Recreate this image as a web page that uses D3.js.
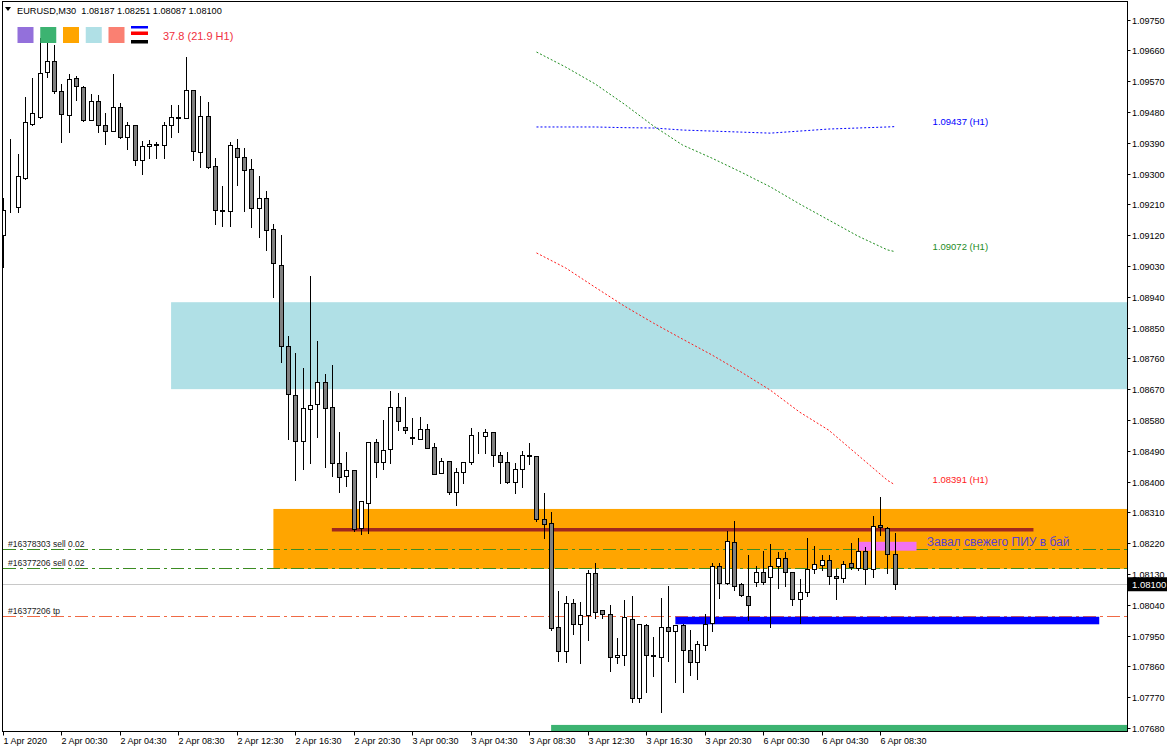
<!DOCTYPE html>
<html><head><meta charset="utf-8">
<script src="https://cdn.jsdelivr.net/npm/d3@7"></script>
<style>
body{margin:0;background:#fff;}
svg{display:block;font-family:"Liberation Sans",Arial,sans-serif;}
</style>
</head><body>
<svg id="c" width="1170" height="750"></svg>
<script>
// ---------- DATA ----------
const symbolTitle = "EURUSD,M30";
const opens = [1.09120,1.09198,1.09203,1.09288,1.09445,1.09464,1.09598,1.09630,1.09542,1.09472,
1.09580,1.09553,1.09455,1.09513,1.09441,1.09424,1.09494,1.09406,1.09441,1.09340,
1.09380,1.09387,1.09382,1.09441,1.09464,1.09461,1.09545,1.09363,1.09467,1.09323,
1.09193,1.09190,1.09374,1.09347,1.09312,1.09200,1.09228,1.09137,1.09033,1.08795,
1.08653,1.08518,1.08613,1.08627,1.08690,1.08619,1.08453,1.08415,1.08435,1.08263,
1.08338,1.08515,1.08458,1.08495,1.08619,1.08560,1.08529,1.08524,1.08553,1.08501,
1.08424,1.08461,1.08370,1.08427,1.08456,1.08536,1.08533,1.08544,1.08477,1.08456,
1.08400,1.08437,1.08477,1.08474,1.08292,1.08279,1.07974,1.07906,1.08044,1.07983,
1.08009,1.08133,1.08024,1.08013,1.07886,1.07892,1.07999,1.07767,1.07980,1.07892,
1.07888,1.07975,1.07964,1.07981,1.07907,1.07874,1.07922,1.07986,1.08153,1.08103,
1.08223,1.08100,1.08066,1.08106,1.08135,1.08122,1.08154,1.08177,1.08135,1.08056,
1.08078,1.08146,1.08155,1.08172,1.08124,1.08119,1.08161,1.08148,1.08196,1.08145,
1.08272,1.08263,1.08187];
const highs = [1.09228,1.09400,1.09356,1.09524,1.09578,1.09696,1.09684,1.09676,1.09562,1.09591,
1.09586,1.09556,1.09532,1.09529,1.09476,1.09591,1.09505,1.09450,1.09441,1.09396,
1.09399,1.09393,1.09450,1.09499,1.09499,1.09641,1.09545,1.09526,1.09508,1.09344,
1.09264,1.09393,1.09400,1.09374,1.09342,1.09293,1.09250,1.09153,1.09120,1.08824,
1.08775,1.08731,1.09001,1.08812,1.08715,1.08740,1.08545,1.08485,1.08435,1.08342,
1.08515,1.08523,1.08579,1.08665,1.08659,1.08648,1.08585,1.08589,1.08567,1.08513,
1.08470,1.08461,1.08439,1.08456,1.08556,1.08544,1.08554,1.08544,1.08485,1.08485,
1.08453,1.08489,1.08513,1.08474,1.08366,1.08312,1.08080,1.08066,1.08058,1.08047,
1.08142,1.08161,1.08024,1.08039,1.07944,1.08053,1.08066,1.07983,1.07983,1.07947,
1.08061,1.08096,1.07981,1.07983,1.07965,1.07934,1.08013,1.08161,1.08163,1.08256,
1.08286,1.08104,1.08184,1.08152,1.08198,1.08217,1.08195,1.08195,1.08135,1.08114,
1.08234,1.08213,1.08185,1.08185,1.08144,1.08169,1.08221,1.08234,1.08210,1.08299,
1.08356,1.08266,1.08251];
const lows = [1.09027,1.09188,1.09188,1.09283,1.09442,1.09462,1.09581,1.09534,1.09391,1.09420,
1.09514,1.09454,1.09455,1.09422,1.09386,1.09424,1.09403,1.09371,1.09325,1.09299,
1.09346,1.09344,1.09344,1.09406,1.09421,1.09461,1.09340,1.09320,1.09317,1.09152,
1.09148,1.09148,1.09266,1.09191,1.09145,1.09115,1.09077,1.08938,1.08748,1.08524,
1.08404,1.08436,1.08455,1.08531,1.08443,1.08416,1.08369,1.08388,1.08255,1.08247,
1.08250,1.08414,1.08436,1.08453,1.08550,1.08541,1.08509,1.08524,1.08499,1.08421,
1.08424,1.08364,1.08331,1.08396,1.08450,1.08482,1.08482,1.08445,1.08396,1.08395,
1.08367,1.08383,1.08450,1.08286,1.08236,1.07966,1.07876,1.07874,1.07955,1.07869,
1.07937,1.08000,1.08000,1.07846,1.07869,1.07864,1.07757,1.07755,1.07786,1.07833,
1.07727,1.07876,1.07815,1.07784,1.07835,1.07822,1.07908,1.07964,1.08059,1.08101,
1.08083,1.08066,1.07995,1.08096,1.08101,1.07976,1.08090,1.08096,1.08039,1.07988,
1.08066,1.08132,1.08142,1.08101,1.08057,1.08107,1.08145,1.08142,1.08101,1.08122,
1.08244,1.08132,1.08087];
const closes = [1.09193,1.09199,1.09294,1.09450,1.09476,1.09593,1.09629,1.09542,1.09473,1.09577,
1.09555,1.09456,1.09513,1.09441,1.09425,1.09494,1.09406,1.09441,1.09340,1.09380,
1.09387,1.09382,1.09441,1.09464,1.09463,1.09545,1.09366,1.09467,1.09319,1.09193,
1.09191,1.09382,1.09347,1.09310,1.09198,1.09228,1.09134,1.09038,1.08797,1.08656,
1.08518,1.08614,1.08624,1.08690,1.08616,1.08453,1.08414,1.08435,1.08260,1.08342,
1.08515,1.08458,1.08493,1.08619,1.08576,1.08550,1.08528,1.08553,1.08499,1.08421,
1.08461,1.08369,1.08427,1.08456,1.08536,1.08535,1.08544,1.08477,1.08456,1.08400,
1.08437,1.08477,1.08475,1.08290,1.08277,1.07973,1.07906,1.08044,1.07983,1.08009,
1.08133,1.08020,1.08012,1.07886,1.07892,1.08004,1.07767,1.07983,1.07892,1.07891,
1.07975,1.07964,1.07981,1.07908,1.07874,1.07924,1.07983,1.08153,1.08104,1.08226,
1.08096,1.08068,1.08038,1.08135,1.08108,1.08153,1.08177,1.08135,1.08056,1.08078,
1.08146,1.08159,1.08172,1.08125,1.08119,1.08159,1.08150,1.08196,1.08145,1.08271,
1.08266,1.08188,1.08100];

const xTickIndex = [0,8,16,24,32,40,48,56,64,72,80,88,96,104,112,120];
const xTickLabels = ["1 Apr 2020","2 Apr 00:30","2 Apr 04:30","2 Apr 08:30","2 Apr 12:30","2 Apr 16:30",
"2 Apr 20:30","3 Apr 00:30","3 Apr 04:30","3 Apr 08:30","3 Apr 12:30","3 Apr 16:30","3 Apr 20:30",
"6 Apr 00:30","6 Apr 04:30","6 Apr 08:30"];
const yTickValues = [1.09750,1.09660,1.09570,1.09480,1.09390,1.09300,1.09210,1.09120,1.09030,1.08940,
1.08850,1.08760,1.08670,1.08580,1.08490,1.08400,1.08310,1.08220,1.08130,1.08040,1.07950,1.07860,1.07770,1.07680];

// H1 averages drawn on the chart (bar index -> price)
const maIndex = [73,77,81,85,89,93,97,101,105,109,113,117,121,122];
const maBlue  = [1.09436,1.09436,1.09436,1.09434,1.09433,1.09427,1.09424,1.09421,1.09418,1.09424,1.09430,1.09433,1.09436,1.09437];
const maGreen = [1.09655,1.09611,1.09562,1.09503,1.09439,1.09383,1.09345,1.09304,1.09261,1.09211,1.09164,1.09117,1.09077,1.09072];
const maRed   = [1.09068,1.09024,1.08968,1.08913,1.08863,1.08816,1.08770,1.08720,1.08667,1.08603,1.08550,1.08477,1.08404,1.08391];
const maLabels = ["1.09437 (H1)","1.09072 (H1)","1.08391 (H1)"];

// zones: [startIndex, endIndex, priceTop, priceBottom]
const zoneBlue   = [23, 170, 1.08924, 1.08670];
const zoneOrange = [37, 170, 1.08320, 1.08145];
const zoneViolet = [117, 125, 1.08224, 1.08198];
const zoneBlueBar= [92, 150, 1.08005, 1.07983];
const zoneGreen  = [75, 170, 1.07689, 1.07600];
const levelBrown = [45, 141, 1.08259];

const orderPrices = [1.08202, 1.08148, 1.08008];
const orderLabels = ["#16378303 sell 0.02", "#16377206 sell 0.02", "#16377206 tp"];
const bidPrice = 1.08100;
const noteText = "Завал свежего ПИУ в бай";
const noteAnchor = [126.4, 1.08198];
const infoText = "37.8 (21.9 H1)";
const swatchColors = ["#9370DB","#3CB371","#FFA500","#B0E0E6","#FA8072"];

// ---------- CHART ----------
const svg = d3.select("#c");
const L = 3, R = 1127, T = 2, B = 731;
const x = d3.scaleLinear().domain([0, 153.8]).range([L, R]);
const y = d3.scaleLinear().domain([1.0768, 1.0975]).range([728, 19.5]);

svg.append("defs").append("clipPath").attr("id","plot")
  .append("rect").attr("x",L).attr("y",T).attr("width",R-L).attr("height",B-T);
const g = svg.append("g").attr("clip-path","url(#plot)");

function zone(z, color){
  g.append("rect").attr("x", x(z[0])).attr("width", x(z[1]) - x(z[0]))
   .attr("y", y(z[2])).attr("height", y(z[3]) - y(z[2])).attr("fill", color);
}
zone(zoneBlue, "#B0E0E6");
zone(zoneOrange, "#FFA500");
zone(zoneGreen, "#3CB371");

// order lines
const orderColors = ["#3c8c22","#3c8c22","#f06a45"];
orderPrices.forEach((p,k)=>{
  const yy = Math.round(y(p))+0.5;
  g.append("line").attr("x1",L).attr("x2",R).attr("y1",yy).attr("y2",yy)
   .attr("stroke",orderColors[k]).attr("stroke-width",1).attr("stroke-dasharray","13,4,3,4");
  svg.append("text").attr("x",8).attr("y",yy-2.5).attr("font-size",8.5).attr("fill","#222")
   .text(orderLabels[k]);
});
// bid line
{
  const yy = Math.round(y(bidPrice))+0.5;
  g.append("line").attr("x1",L).attr("x2",R).attr("y1",yy).attr("y2",yy)
   .attr("stroke","#c8c8c8").attr("stroke-width",1);
}

// brown level
g.append("line").attr("x1",x(levelBrown[0])).attr("x2",x(levelBrown[1]))
 .attr("y1",y(levelBrown[2])).attr("y2",y(levelBrown[2]))
 .attr("stroke","#a0281e").attr("stroke-width",3.5);

zone(zoneBlueBar, "#0000FF");
zone(zoneViolet, "#F272F2");

// moving-average dotted lines
const maSeries = [[maBlue,"#0000FF"],[maGreen,"#1e8c1e"],[maRed,"#ff1a1a"]];
const line = d3.line().x((d,i)=>x(maIndex[i])).y(d=>y(d));
maSeries.forEach(([vals,col],k)=>{
  g.append("path").attr("d", line(vals)).attr("fill","none").attr("stroke",col)
   .attr("stroke-width",1).attr("stroke-dasharray","2,2");
  svg.append("text").attr("x", x(127.2)).attr("y", y(vals[vals.length-1]) - 2)
   .attr("font-size",9.5).attr("fill",col).text(maLabels[k]);
});

// candles
const candles = d3.range(opens.length).map(i=>({i,o:opens[i],h:highs[i],l:lows[i],c:closes[i]}));
const cg = g.append("g");
candles.forEach(d=>{
  const cx = Math.round(x(d.i));
  cg.append("line").attr("x1",cx+0.5).attr("x2",cx+0.5)
    .attr("y1",Math.round(y(d.h))).attr("y2",Math.round(y(d.l))+1)
    .attr("stroke","#000").attr("stroke-width",1);
  const top = Math.round(y(Math.max(d.o,d.c)));
  const bot = Math.round(y(Math.min(d.o,d.c)));
  cg.append("rect").attr("x",cx-2+0.5).attr("width",4)
    .attr("y",top+0.5).attr("height",Math.max(bot-top,0))
    .attr("fill", d.c >= d.o ? "#ffffff" : "#808080")
    .attr("stroke","#000").attr("stroke-width",1);
});

// note text
svg.append("text").attr("x", x(noteAnchor[0])).attr("y", y(noteAnchor[1]) - 5)
  .attr("font-size",12).attr("fill","#5a3fcf").text(noteText);

// frame
svg.append("rect").attr("x",L-0.5).attr("y",T-0.5).attr("width",R-L+1).attr("height",B-T+1)
  .attr("fill","none").attr("stroke","#000").attr("stroke-width",1);

// right axis
const yAxis = svg.append("g").attr("transform",`translate(${R+0.5},0)`);
yTickValues.forEach(v=>{
  const yy = Math.round(y(v))+0.5;
  yAxis.append("line").attr("x1",0).attr("x2",3).attr("y1",yy).attr("y2",yy).attr("stroke","#000");
  yAxis.append("text").attr("x",4.5).attr("y",yy+3.2).attr("font-size",9).attr("fill","#000")
    .text(v.toFixed(5));
});
// bid label
{
  const yy = y(bidPrice);
  svg.append("rect").attr("x",R+1).attr("y",yy-7).attr("width",39).attr("height",14).attr("fill","#000");
  svg.append("text").attr("x",R+5).attr("y",yy+3.5).attr("font-size",9.5).attr("fill","#fff")
    .text(bidPrice.toFixed(5));
}

// bottom axis
const xAxis = svg.append("g").attr("transform",`translate(0,${B+0.5})`);
xTickIndex.forEach((ix,k)=>{
  const xx = Math.round(x(ix))+0.5;
  xAxis.append("line").attr("x1",xx).attr("x2",xx).attr("y1",0).attr("y2",4).attr("stroke","#000");
  xAxis.append("text").attr("x",xx).attr("y",12.5).attr("font-size",9).attr("fill","#000")
    .text(xTickLabels[k]);
});

// header
svg.append("path").attr("d","M5,7 L11,7 L8,11 Z").attr("fill","#000");
const last = candles[candles.length-1];
svg.append("text").attr("x",17).attr("y",13.5).attr("font-size",9.2).attr("fill","#000")
  .attr("xml:space","preserve")
  .text(symbolTitle + "  " + [last.o,last.h,last.l,last.c].map(v=>v.toFixed(5)).join(" "));

// swatches
swatchColors.forEach((c,k)=>{
  svg.append("rect").attr("x",17.5 + k*22.75).attr("y",27).attr("width",16).attr("height",16).attr("fill",c);
});
svg.append("rect").attr("x",131).attr("y",26).attr("width",17).attr("height",2.5).attr("fill","#0000FF");
svg.append("rect").attr("x",131).attr("y",31.5).attr("width",17).attr("height",3.5).attr("fill","#FF0000");
svg.append("rect").attr("x",131).attr("y",40).attr("width",17).attr("height",3.5).attr("fill","#000");
svg.append("text").attr("x",163).attr("y",40).attr("font-size",11).attr("fill","#f03040").text(infoText);
</script>
</body></html>
